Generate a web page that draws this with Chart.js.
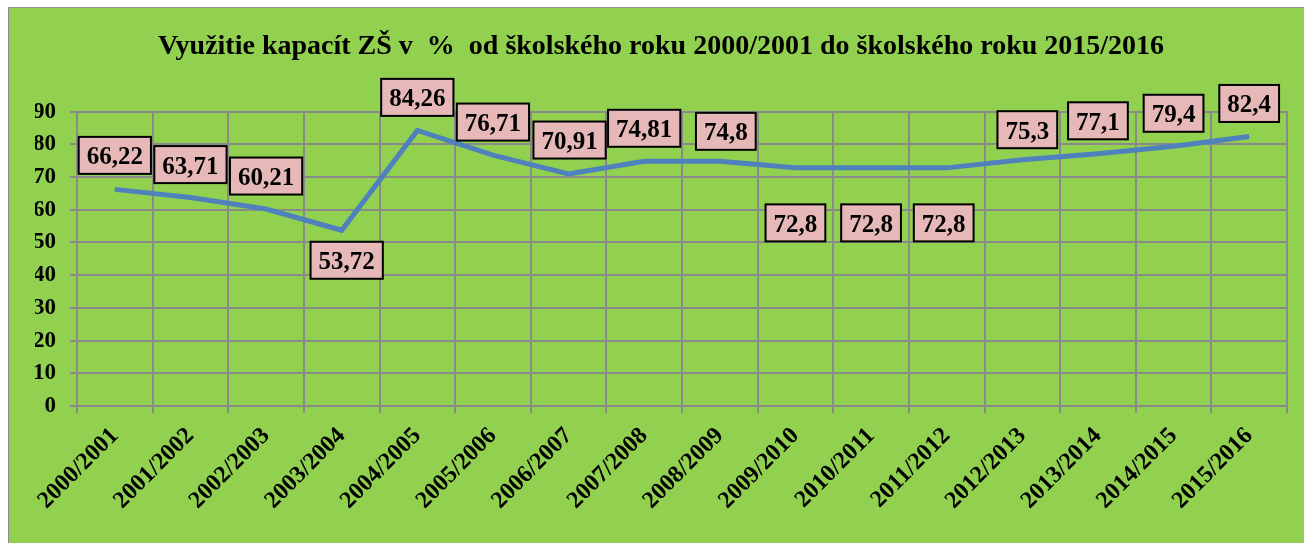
<!DOCTYPE html>
<html>
<head>
<meta charset="utf-8">
<script src="https://cdn.jsdelivr.net/npm/chart.js@4/dist/chart.umd.min.js"></script>
<style>
  body { margin: 0; background: #fff; overflow: hidden; }
  #frame {
    position: absolute; left: 8px; top: 7px; width: 1310px; height: 550px;
    background: #92d050; border: 1.5px solid #8c8c8c;
  }
  #chart { position: absolute; left: 0; top: 0; }
</style>
</head>
<body>
<div id="frame"></div>
<canvas id="chart" width="1304" height="543"></canvas>
<script>
const years = [
  "2000/2001", "2001/2002", "2002/2003", "2003/2004", "2004/2005", "2005/2006",
  "2006/2007", "2007/2008", "2008/2009", "2009/2010", "2010/2011", "2011/2012",
  "2012/2013", "2013/2014", "2014/2015", "2015/2016",
];
const usage = [66.22, 63.71, 60.21, 53.72, 84.26, 76.71, 70.91, 74.81, 74.8, 72.8, 72.8, 72.8, 75.3, 77.1, 79.4, 82.4];
const labelTexts = ["66,22", "63,71", "60,21", "53,72", "84,26", "76,71", "70,91", "74,81", "74,8", "72,8", "72,8", "72,8", "75,3", "77,1", "79,4", "82,4"];

// where each data label sits relative to its point (like Excel placed them)
const labelDx = [0, 0, 0, 5, 0, 0, 1, 0, 6, 0, 0, -3, 5, 0, 0, 0];
const labelDy = [-34, -33, -33, 30, -33, -33, -34, -33, -30, 55, 55, 55, -30, -33, -33, -33];

const serif = "'Liberation Serif', 'Times New Roman', serif";

const dataLabels = {
  id: "dataLabels",
  afterDatasetsDraw(chart) {
    const ctx = chart.ctx;
    const meta = chart.getDatasetMeta(0);
    ctx.save();
    ctx.font = "bold 25px " + serif;
    meta.data.forEach((pt, i) => {
      const txt = labelTexts[i];
      const cx = pt.x + labelDx[i];
      const cy = pt.y + labelDy[i];
      const w = ctx.measureText(txt).width + 16;
      const h = 37;
      ctx.fillStyle = "#e6b9b8";
      ctx.fillRect(cx - w / 2, cy - h / 2, w, h);
      ctx.lineWidth = 2;
      ctx.strokeStyle = "#000";
      ctx.strokeRect(cx - w / 2, cy - h / 2, w, h);
      ctx.fillStyle = "#000";
      ctx.textAlign = "center";
      ctx.textBaseline = "alphabetic";
      ctx.fillText(txt, cx, cy + 9);
    });
    ctx.restore();
  },
};

new Chart(document.getElementById("chart"), {
  type: "line",
  data: {
    labels: years,
    datasets: [
      {
        label: "Využitie kapacít",
        data: usage,
        borderColor: "#4f81bd",
        borderWidth: 5,
        pointRadius: 0,
        tension: 0,
        fill: false,
      },
    ],
  },
  options: {
    responsive: false,
    animation: false,
    layout: { padding: { left: 35, right: 17, top: 0, bottom: 0 } },
    plugins: {
      legend: { display: false },
      tooltip: { enabled: false },
      title: {
        display: true,
        text: "Využitie kapacít ZŠ v  %  od školského roku 2000/2001 do školského roku 2015/2016",
        color: "#000",
        font: { family: serif, size: 28, weight: "bold", lineHeight: 1.2 },
        padding: { top: 30, bottom: 48 },
      },
    },
    scales: {
      x: {
        offset: true,
        grid: { offset: true, color: "#8a8a8a", lineWidth: 2, tickLength: 7 },
        border: { color: "#8a8a8a", width: 2 },
        ticks: {
          color: "#000",
          font: { family: serif, size: 24, weight: "bold" },
          maxRotation: 45,
          minRotation: 45,
          autoSkip: false,
          padding: 9,
        },
        afterFit(scale) { scale.height = 137; },
      },
      y: {
        min: 0,
        max: 90,
        grid: { color: "#8a8a8a", lineWidth: 2, tickLength: 7 },
        border: { color: "#8a8a8a", width: 2 },
        ticks: {
          stepSize: 10,
          color: "#000",
          font: { family: serif, size: 23, weight: "bold" },
          padding: 14,
        },
        afterFit(scale) { scale.width = 42; },
      },
    },
  },
  plugins: [dataLabels],
});
</script>
</body>
</html>
